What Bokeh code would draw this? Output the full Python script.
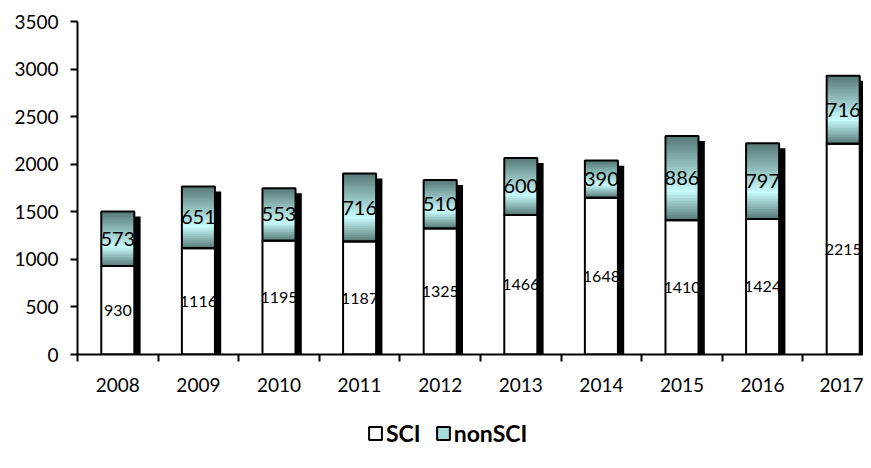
from bokeh.plotting import figure
from bokeh.layouts import column
from bokeh.models import (Range1d, FixedTicker, ColumnDataSource, Legend, LegendItem)
from bokeh.core.properties import value
from bokeh.embed import file_html
from bokeh.resources import INLINE

years = ["2008", "2009", "2010", "2011", "2012", "2013", "2014", "2015", "2016", "2017"]
sci = [930, 1116, 1195, 1187, 1325, 1466, 1648, 1410, 1424, 2215]
nonsci = [573, 651, 553, 716, 510, 600, 390, 886, 797, 716]
y_ticks = [0, 500, 1000, 1500, 2000, 2500, 3000, 3500]

FONT = "Lato"
n = len(years)
xc = [i + 0.5 for i in range(n)]
hw = 0.205
totals = [a + b for a, b in zip(sci, nonsci)]

W, H, LH = 863, 400, 60
LEFT, TOP, BOTTOM = 77, 21, 46
x_end = (W - LEFT) / 80.6

p = figure(width=W, height=H, output_backend="svg", toolbar_location=None,
           x_range=Range1d(0, x_end), y_range=Range1d(0, 3500),
           min_border_left=LEFT, min_border_right=0, min_border_top=TOP,
           min_border_bottom=BOTTOM)
p.outline_line_color = None
p.xgrid.visible = False
p.ygrid.visible = False
p.background_fill_color = "white"

# gradient fill for nonSCI, painted top-down so no seams appear
dark = (84, 120, 118)
light = (200, 252, 252)
def grad(t):
    peak = 0.65
    f = t / peak if t <= peak else (1 - t) / (1 - peak)
    c = [int(round(d + (l - d) * f)) for d, l in zip(dark, light)]
    return "#%02x%02x%02x" % tuple(c)

N = 30
gl, gr, gb, gt, gc = [], [], [], [], []
for k in range(N):
    for i in range(n):
        gl.append(xc[i] - hw); gr.append(xc[i] + hw)
        gt.append(totals[i] - nonsci[i] * k / N)
        gb.append(sci[i])
        gc.append(grad((k + 0.5) / N))
p.quad(left=gl, right=gr, bottom=gb, top=gt, fill_color=gc, line_color=None)

src = ColumnDataSource(dict(
    x=xc, left=[x - hw for x in xc], right=[x + hw for x in xc],
    sci=sci, nonsci=nonsci, total=totals, zero=[0] * n,
    sci_mid=[s / 2 for s in sci],
    non_mid=[s + v / 2 for s, v in zip(sci, nonsci)],
    sci_lab=[str(v) for v in sci], non_lab=[str(v) for v in nonsci],
    sh_left=[x + hw for x in xc], sh_right=[x + hw + 0.078 for x in xc],
    sh_top=[t - 53 for t in totals],
))

p.quad(left="left", right="right", bottom="zero", top="sci", source=src,
       fill_color="white", line_color="black", line_width=2)
p.quad(left="left", right="right", bottom="sci", top="total", source=src,
       fill_color=None, line_color="black", line_width=2)

p.text(x="x", y="sci_mid", text="sci_lab", source=src, text_align="center",
       text_baseline="middle", text_font=value(FONT), text_font_size="16px", text_color="black")
p.text(x="x", y="non_mid", text="non_lab", source=src, text_align="center",
       text_baseline="middle", text_font=value(FONT), text_font_size="20px", text_color="black")

p.quad(left="sh_left", right="sh_right", bottom="zero", top="sh_top", source=src,
       fill_color="black", line_color=None)

# axes
xa = p.xaxis[0]
xa.ticker = FixedTicker(ticks=xc, minor_ticks=list(range(n + 1)))
xa.major_label_overrides = {x: y for x, y in zip(xc, years)}
xa.major_tick_line_color = None
xa.major_tick_out = 0
xa.major_tick_in = 0
xa.minor_tick_out = 7
xa.minor_tick_in = 0
xa.minor_tick_line_color = "black"
xa.minor_tick_line_width = 2
xa.axis_line_color = "black"
xa.axis_line_width = 2
xa.major_label_standoff = 16
xa.major_label_text_font = FONT
xa.major_label_text_font_size = "19px"
xa.major_label_text_color = "black"

ya = p.yaxis[0]
ya.ticker = FixedTicker(ticks=y_ticks, minor_ticks=[])
ya.major_tick_out = 7
ya.major_tick_in = 0
ya.major_tick_line_color = "black"
ya.major_tick_line_width = 2
ya.axis_line_color = "black"
ya.axis_line_width = 2
ya.major_label_standoff = 12
ya.major_label_text_font = FONT
ya.major_label_text_font_size = "19px"
ya.major_label_text_color = "black"

# legend strip
lf = figure(width=W, height=LH, output_backend="svg", toolbar_location=None,
            x_range=Range1d(0, W), y_range=Range1d(0, LH),
            x_axis_type=None, y_axis_type=None,
            min_border_left=0, min_border_right=0, min_border_top=0, min_border_bottom=0)
lf.outline_line_color = None
lf.xgrid.visible = False
lf.ygrid.visible = False
off = [-100]
r_sci = lf.quad(left=off, right=off, bottom=off, top=off, fill_color="white",
                line_color="black", line_width=2)
r_non = lf.quad(left=off, right=off, bottom=off, top=off, fill_color="#a6dcda",
                line_color="black", line_width=2)
legend = Legend(items=[LegendItem(label="SCI", renderers=[r_sci]),
                       LegendItem(label="nonSCI", renderers=[r_non])],
                orientation="horizontal", location=(290, 13),
                glyph_width=16, glyph_height=16, label_standoff=3, spacing=14,
                padding=0, margin=0, border_line_color=None, background_fill_alpha=0,
                label_text_font=FONT, label_text_font_size="23px",
                label_text_font_style="bold", label_text_color="black")
lf.add_layout(legend, "center")

layout = column(p, lf, spacing=0)
open("out.html", "w").write(file_html(layout, INLINE))
